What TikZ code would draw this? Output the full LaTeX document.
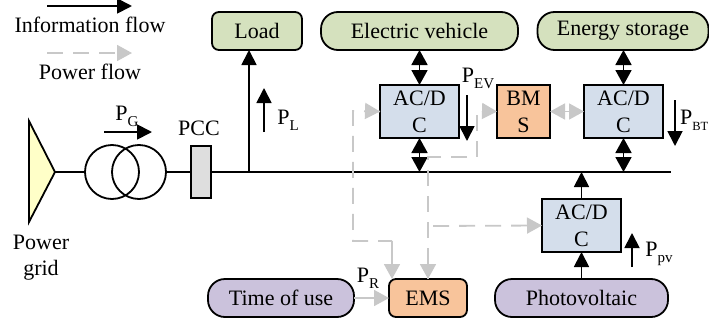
\documentclass[tikz,border=0pt]{standalone}
\usepackage{fontspec}
\setmainfont{Liberation Serif}
\usetikzlibrary{arrows.meta}
\definecolor{cgreen}{HTML}{D5E1BE}
\definecolor{cblue}{HTML}{D4DEEB}
\definecolor{corange}{HTML}{F8C49B}
\definecolor{cpurple}{HTML}{CBC2DC}
\definecolor{cyellow}{HTML}{FFFFC8}
\definecolor{cgrey}{HTML}{DEDEDE}
\definecolor{cflow}{HTML}{C8C8C8}
\newcommand{\Psub}[1]{P\raisebox{-0.28em}{\fontsize{15}{15}\selectfont #1}}
\tikzset{
  lbl/.style={inner sep=0pt,font=\fontsize{22}{22}\selectfont},
  boxbase/.style={draw=black,line width=1.8pt,outer sep=0pt,inner sep=0pt,align=center,font=\fontsize{22}{27}\selectfont},
  pill/.style={boxbase,rounded corners=17pt},
  rbox/.style={boxbase,rounded corners=7pt},
  conv/.style={boxbase,fill=cblue,minimum width=79pt,minimum height=53pt},
  wire/.style={line width=1.8pt,black},
  info/.style={line width=1.8pt,black,-{Triangle[length=15pt,width=15pt]}},
  both/.style={line width=1.8pt,black,{Triangle[length=15pt,width=16pt]}-{Triangle[length=15pt,width=16pt]}},
  pow/.style={line width=1.8pt,cflow,dash pattern=on 16pt off 10pt,-{Triangle[length=15pt,width=16pt]}},
  powline/.style={line width=1.8pt,cflow,dash pattern=on 16pt off 10pt},
  powsolid/.style={line width=1.8pt,cflow,-{Triangle[length=15pt,width=16pt]}}
}
\begin{document}
\begin{tikzpicture}[x=1pt,y=-1pt]
\useasboundingbox (0,0) rectangle (709,324);
% legend
\coordinate (la) at (47,6); \coordinate (lb) at (132,6);
\draw[info] (la) -- (lb);
\node[lbl] (tinfo) at (90,25) {Information flow};
\coordinate (lc) at (47,53); \coordinate (ld) at (132,53);
\draw[pow] (lc) -- (ld);
\node[lbl] (tpow) at (90,72) {Power flow};
% grid
\coordinate (g1) at (29,121); \coordinate (g2) at (55,172); \coordinate (g3) at (29,222);
\draw[line width=1.8pt,fill=cyellow,line join=miter] (g1) -- (g2) -- (g3) -- cycle;
\node[lbl,align=center,font=\fontsize{22}{26}\selectfont] (tgrid) at (41,258) {Power\\grid};
% transformer
\node[draw,line width=1.8pt,circle,minimum size=54pt,inner sep=0pt,outer sep=0pt] (t1) at (112,172) {};
\node[draw,line width=1.8pt,circle,minimum size=54pt,inner sep=0pt,outer sep=0pt] (t2) at (139,172) {};
\draw[wire] (g2) -- (t1.west);
\node[draw,line width=1.8pt,fill=cgrey,minimum width=20pt,minimum height=52pt,inner sep=0pt,outer sep=0pt] (pcc) at (201,172) {};
\draw[wire] (t2.east) -- (pcc.west);
\coordinate (busend) at (671,172);
\draw[wire] (pcc.east) -- (busend);
\node[lbl] (tpcc) at (199,128) {PCC};
\node[lbl] (tpg) at (127,116) {\Psub{G}};
\coordinate (pga) at (104,132); \coordinate (pgb) at (152,132);
\draw[info] (pga) -- (pgb);
% top nodes
\node[rbox,fill=cgreen,minimum width=90pt,minimum height=38pt] (load) at (257,31) {Load};
\node[pill,fill=cgreen,minimum width=197pt,minimum height=38pt] (ev) at (419.5,31) {Electric vehicle};
\node[pill,fill=cgreen,minimum width=171pt,minimum height=38pt] (es) at (623,31) {Energy storage};
% converters
\node[conv] (c1) at (419.5,111.5) {AC/D\\C};
\node[conv] (c2) at (623.5,111.5) {AC/D\\C};
\node[conv] (c3) at (581.5,225.5) {AC/D\\C};
\node[boxbase,fill=corange,minimum width=53pt,minimum height=53pt] (bms) at (523.5,111.5) {BM\\S};
% bottom nodes
\node[pill,fill=cpurple,minimum width=146pt,minimum height=38pt] (tou) at (281,298) {Time of use};
\node[rbox,fill=corange,minimum width=78pt,minimum height=38pt] (ems) at (428,298) {EMS};
\node[pill,fill=cpurple,minimum width=173pt,minimum height=38pt] (pv) at (581.5,298) {Photovoltaic};
% bus tap coordinates
\coordinate (bl) at (249,172);
\coordinate (b1) at (419.5,172);
\coordinate (b2) at (623.5,172);
\coordinate (b3) at (581.5,172);
% black connectors
\draw[info] (bl) -- (bl |- load.south);
\draw[both] (ev.south) -- (c1.north);
\draw[both] (c1.south) -- (b1);
\draw[both] (es.south -| c2.north) -- (c2.north);
\draw[both] (c2.south) -- (b2);
\draw[info] (c3.north) -- (b3);
\draw[info] (pv.north) -- (c3.south);
% flow arrows
\coordinate (pla) at (264,132); \coordinate (plb) at (264,88);
\draw[info] (pla) -- (plb);
\node[lbl] (tpl) at (288,120) {\Psub{L}};
\coordinate (pea) at (467,95); \coordinate (peb) at (467,141);
\draw[info] (pea) -- (peb);
\node[lbl] (tpe) at (478,78) {\Psub{EV}};
\coordinate (pba) at (675,100); \coordinate (pbb) at (675,146);
\draw[info] (pba) -- (pbb);
\node[lbl,anchor=east] (tpb) at (708.5,120) {P\raisebox{-0.28em}{\fontsize{12.5}{12.5}\selectfont BT}};
\coordinate (ppa) at (632,267); \coordinate (ppb) at (632,233);
\draw[info] (ppa) -- (ppb);
\node[lbl] (tpp) at (659,254) {\Psub{pv}};
\node[lbl] (tpr) at (368,278) {\Psub{R}};
% power flow
\coordinate (d1) at (353,111); \coordinate (d2) at (353,241); \coordinate (d3) at (392,241); \coordinate (d4) at (392,279);
\draw[powline] (c1.west) -- (d1) -- (d2) -- (d3);
\draw[powsolid] (d3) -- (d4);
\draw[powsolid] (366,111) -- (c1.west);
\coordinate (e1) at (477,115); \coordinate (e2) at (477,157); \coordinate (e3) at (428,157);
\draw[powline] (e1) -- (e2) -- (e3) -- (428,279);
\draw[powsolid] (428,250) -- (ems.north);
\draw[powsolid] (482,111) -- (bms.west);
\draw[pow] (433,226) -- (c3.west);
\draw[line width=1.8pt,cflow,{Triangle[length=15pt,width=16pt]}-{Triangle[length=15pt,width=16pt]}] (bms.east) -- (c2.west);
\draw[powsolid] (tou.east) -- (ems.west);
\end{tikzpicture}
\end{document}
